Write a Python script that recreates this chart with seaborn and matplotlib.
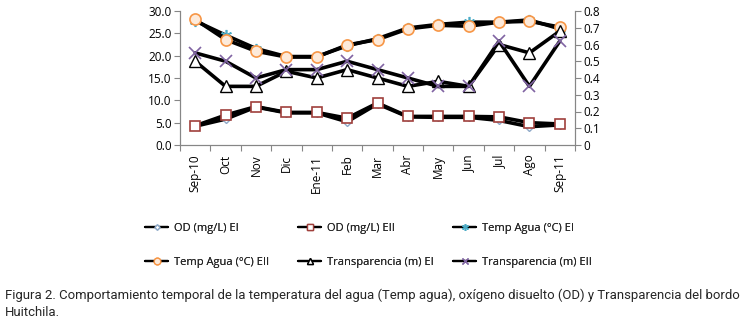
import matplotlib
matplotlib.use("Agg")
import matplotlib.pyplot as plt
import seaborn as sns
import numpy as np
import pandas as pd
from matplotlib.ticker import FormatStrFormatter, FixedLocator
from matplotlib.lines import Line2D

months = ["Sep-10", "Oct", "Nov", "Dic", "Ene-11", "Feb", "Mar", "Abr", "May", "Jun", "Jul", "Ago", "Sep-11"]

od_ei = [4.2, 5.8, 8.5, 7.2, 7.2, 5.2, 9.2, 6.3, 6.2, 6.2, 5.5, 4.1, 4.5]
od_eii = [4.3, 6.7, 8.6, 7.3, 7.3, 6.0, 9.4, 6.4, 6.4, 6.4, 6.3, 5.0, 4.7]
temp_ei = [27.8, 24.6, 21.6, 19.8, 19.8, 22.2, 23.8, 26.2, 27.0, 27.5, 27.5, 28.0, 26.0]
temp_eii = [28.1, 23.6, 21.0, 19.7, 19.7, 22.4, 23.6, 26.0, 26.8, 26.6, 27.5, 27.7, 26.4]
trans_ei = [0.50, 0.35, 0.35, 0.44, 0.40, 0.45, 0.40, 0.35, 0.38, 0.35, 0.60, 0.55, 0.68]
trans_eii = [0.55, 0.50, 0.40, 0.45, 0.45, 0.50, 0.45, 0.40, 0.35, 0.35, 0.62, 0.35, 0.62]

labels = ["OD (mg/L) EI", "OD (mg/L) EII", "Temp Agua (°C) EI",
          "Temp Agua (°C) EII", "Transparencia (m) EI", "Transparencia (m) EII"]

caption = ("Figura 2. Comportamiento temporal de la temperatura del agua (Temp agua), "
           "oxígeno disuelto (OD) y Transparencia del bordo\nHuitchila.")

sns.set_theme(style="white")
plt.rcParams['font.family'] = ['Open Sans', 'DejaVu Sans']

W, H = 746, 322
fig = plt.figure(figsize=(W/100, H/100), dpi=100)
ax = fig.add_axes([180/W, 1-145/H, 395/W, 134/H])
ax2 = ax.twinx()

pos = np.arange(len(months))
styles = [
    dict(marker="D", ms=4.5, mfc="white", mec="#8EA9C8", mew=1.0),
    dict(marker="s", ms=7, mfc="white", mec="#A0403C", mew=1.2),
    dict(marker=(6, 2, 0), ms=8, mfc="#4BACC6", mec="#4BACC6", mew=1.2),
    dict(marker="o", ms=8, mfc="#FDEADA", mec="#F79646", mew=1.2),
    dict(marker="^", ms=8, mfc="white", mec="black", mew=1.0),
    dict(marker="x", ms=8, mfc="#8064A2", mec="#8064A2", mew=1.2),
]
series = [od_ei, od_eii, temp_ei, temp_eii, trans_ei, trans_eii]
axes_for = [ax, ax, ax, ax, ax2, ax2]

for vals, lab, st, a in zip(series, labels, styles, axes_for):
    df = pd.DataFrame({"x": pos, "y": vals})
    sns.lineplot(data=df, x="x", y="y", ax=a, color="black", linewidth=2.6,
                 label=lab, legend=False, zorder=3, **st)

ax.set_xlim(-0.5, 12.5)
ax.set_ylim(0, 30)
ax2.set_ylim(0, 0.8)
ax.set_yticks(np.arange(0, 30.1, 5))
ax.yaxis.set_major_formatter(FormatStrFormatter("%.1f"))
ax2.set_yticks(np.arange(0, 0.81, 0.1))
ax2.set_yticklabels(["0"] + [f"{v:.1f}" for v in np.arange(0.1, 0.81, 0.1)])
ax.set_xticks(pos)
ax.set_xticklabels(months, rotation=90)
ax.xaxis.set_minor_locator(FixedLocator(np.arange(-0.5, 13, 1)))
ax.set_xlabel("")
ax.set_ylabel("")
ax2.set_ylabel("")

for a in (ax, ax2):
    for s in a.spines.values():
        s.set_color("#868686")
        s.set_linewidth(0.8)
    a.spines["top"].set_visible(False)
ax.tick_params(axis="x", which="major", length=0, labelsize=8.5, pad=7)
ax.tick_params(axis="x", which="minor", length=4, width=0.8, color="#868686", direction="out", bottom=True)
ax.tick_params(axis="y", length=4, width=0.8, color="#868686", direction="out", left=True, labelsize=8.5, pad=2)
ax2.tick_params(axis="y", length=4, width=0.8, color="#868686", direction="out", right=True, labelsize=8.5, pad=2)
for t in ax.get_xticklabels() + ax.get_yticklabels() + ax2.get_yticklabels():
    t.set_color("black")

# legend: three columns placed at the reference positions
small = []
for st in styles:
    small.append(Line2D([], [], color="black", linewidth=1.6, marker=st["marker"],
                        markersize=st["ms"], markerfacecolor=st["mfc"],
                        markeredgecolor=st["mec"], markeredgewidth=1.0))
col_x = [145, 298, 453]
cols = [[0, 3], [1, 4], [2, 5]]
for cx, idx in zip(col_x, cols):
    leg = fig.legend([small[i] for i in idx], [labels[i] for i in idx],
                     loc="center left", bbox_to_anchor=(cx/W, 1-245.5/H),
                     frameon=False, fontsize=8, handlelength=2.1, handletextpad=0.5,
                     labelspacing=2.05, borderpad=0, borderaxespad=0, markerscale=0.6)
    fig.add_artist(leg)

txt = fig.text(5/W, 1-304/H, caption, ha="left", va="center", fontsize=9.5,
               linespacing=1.4, family=["Roboto", "DejaVu Sans"])
fig.canvas.draw()
r = fig.canvas.get_renderer()
w = txt.get_window_extent(r).width
txt.set_fontsize(9.5 * 737 / w)

fig.savefig("out.png", dpi=100)
